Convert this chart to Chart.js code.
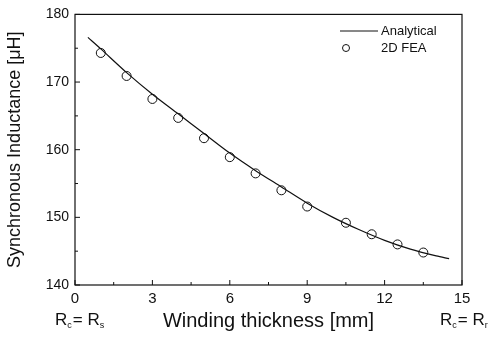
<!DOCTYPE html>
<html>
<head>
<meta charset="utf-8">
<script src="https://cdn.jsdelivr.net/npm/chart.js@4/dist/chart.umd.min.js"></script>
<style>
  body { margin: 0; background: #fff; }
  #wrap { width: 496px; height: 337px; }
</style>
</head>
<body>
<div id="wrap"><canvas id="grafico" width="496" height="337"></canvas></div>
<script>
// analytical curve
const analyticX = [0.5, 1, 2, 3, 4, 5, 6, 7, 8, 9, 10, 11, 12, 13, 14, 14.5];
const analyticY = [176.6, 174.9, 171.4, 168.2, 165.3, 162.4, 159.5, 156.9, 154.5, 152.1, 150.0, 148.2, 146.6, 145.3, 144.3, 143.9];

// 2D FEA points
const feaX = [1, 2, 3, 4, 5, 6, 7, 8, 9, 10.5, 11.5, 12.5, 13.5];
const feaY = [174.3, 170.9, 167.5, 164.7, 161.7, 158.9, 156.5, 154.0, 151.6, 149.2, 147.5, 146.0, 144.8];

const xTicks = [0, 3, 6, 9, 12, 15];
const yTicks = [140, 150, 160, 170, 180];

const nero = "#111";
const font = "'Liberation Sans', Arial, sans-serif";

const toPoints = (xs, ys) => xs.map((x, i) => ({ x: x, y: ys[i] }));

// frame, inward ticks, legend and the Rc labels
const cornice = {
  id: "cornice",
  afterDraw(chart) {
    const ctx = chart.ctx;
    const a = chart.chartArea;
    const sx = chart.scales.x;
    const sy = chart.scales.y;
    ctx.save();
    ctx.strokeStyle = nero;
    ctx.lineWidth = 1.2;
    ctx.strokeRect(a.left, a.top, a.right - a.left, a.bottom - a.top);

    ctx.lineWidth = 1;
    ctx.beginPath();
    for (let v = 0; v <= 15; v += 1.5) {
      const px = sx.getPixelForValue(v);
      const len = v % 3 === 0 ? 5 : 3;
      ctx.moveTo(px, a.bottom);
      ctx.lineTo(px, a.bottom - len);
    }
    for (let v = 140; v <= 180; v += 5) {
      const py = sy.getPixelForValue(v);
      const len = v % 10 === 0 ? 5 : 3;
      ctx.moveTo(a.left, py);
      ctx.lineTo(a.left + len, py);
    }
    ctx.stroke();

    // legend
    ctx.fillStyle = nero;
    ctx.font = "13px " + font;
    ctx.textBaseline = "middle";
    ctx.beginPath();
    ctx.moveTo(340, 31);
    ctx.lineTo(378, 31);
    ctx.stroke();
    ctx.fillText("Analytical", 381, 31);
    ctx.beginPath();
    ctx.arc(346, 48, 3.5, 0, Math.PI * 2);
    ctx.stroke();
    ctx.fillText("2D FEA", 381, 48);

    // R_c = R_s / R_c = R_r
    const rc = (x, sub2) => {
      ctx.font = "17px " + font;
      ctx.textAlign = "left";
      ctx.fillText("R", x, 320);
      let w = ctx.measureText("R").width;
      ctx.font = "9px " + font;
      ctx.fillText("c", x + w, 326);
      w += ctx.measureText("c").width + 1;
      ctx.font = "17px " + font;
      ctx.fillText("= R", x + w, 320);
      w += ctx.measureText("= R").width;
      ctx.font = "9px " + font;
      ctx.fillText(sub2, x + w, 326);
    };
    rc(55, "s");
    rc(440, "r");
    ctx.restore();
  }
};

new Chart(document.getElementById("grafico"), {
  type: "scatter",
  data: {
    datasets: [
      {
        label: "Analytical",
        data: toPoints(analyticX, analyticY),
        showLine: true,
        borderColor: nero,
        borderWidth: 1.2,
        pointRadius: 0,
        tension: 0.3
      },
      {
        label: "2D FEA",
        data: toPoints(feaX, feaY),
        showLine: false,
        pointStyle: "circle",
        pointRadius: 4.5,
        borderColor: nero,
        borderWidth: 1,
        backgroundColor: "rgba(255,255,255,0)"
      }
    ]
  },
  options: {
    responsive: false,
    animation: false,
    layout: { padding: { top: 12, right: 34, left: 0, bottom: 0 } },
    plugins: { legend: { display: false }, tooltip: { enabled: false } },
    scales: {
      x: {
        type: "linear",
        min: 0,
        max: 15,
        afterBuildTicks: (s) => { s.ticks = xTicks.map(v => ({ value: v })); },
        afterFit: (s) => { s.height = 52; },
        grid: { display: false, drawTicks: false },
        border: { display: false },
        ticks: { color: nero, font: { family: font, size: 15 }, padding: 5 },
        title: {
          display: true,
          text: "Winding thickness [mm]",
          color: nero,
          font: { family: font, size: 20 },
          padding: { top: 3 }
        }
      },
      y: {
        type: "linear",
        min: 140,
        max: 180,
        afterBuildTicks: (s) => { s.ticks = yTicks.map(v => ({ value: v })); },
        afterFit: (s) => { s.width = 75; },
        grid: { display: false, drawTicks: false },
        border: { display: false },
        ticks: { color: nero, font: { family: font, size: 14 }, padding: 6 },
        title: {
          display: true,
          text: "Synchronous Inductance [\u03bcH]",
          color: nero,
          font: { family: font, size: 18 },
          padding: { top: 4, bottom: 0 }
        }
      }
    }
  },
  plugins: [cornice]
});
</script>
</body>
</html>
